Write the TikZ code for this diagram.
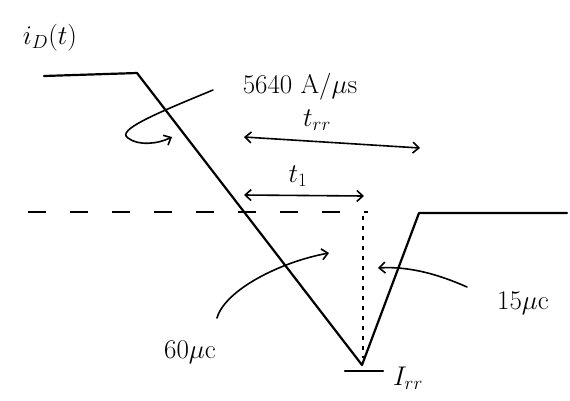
\RequirePackage{fix-cm}
\documentclass[tikz,border=0pt]{standalone}
\usetikzlibrary{arrows.meta}
\begin{document}
\begin{tikzpicture}[x=1pt,y=-1pt,
  wave/.style={line width=2.2pt,line join=round,line cap=round},
  note/.style={line width=1.6pt,line cap=round,-{Straight Barb[length=6pt,width=11pt,line width=1.6pt]}},
  dbl/.style={line width=1.6pt,line cap=round,{Straight Barb[length=6pt,width=11pt,line width=1.6pt]}-{Straight Barb[length=6pt,width=11pt,line width=1.6pt]}},
  lbl/.style={inner sep=0pt,font=\fontsize{27}{32}\selectfont}]
\useasboundingbox (0,0) rectangle (570,400);
% waveform
\coordinate (a) at (44,76);
\coordinate (b) at (137,73);
\coordinate (c) at (362,365);
\coordinate (d) at (419,213);
\coordinate (e) at (567,213);
\draw[wave] (a) -- (b) -- (c) -- (d) -- (e);
% Irr bar
\coordinate (irl) at (345,371);
\coordinate (irr) at (383,371);
\draw[wave] (irl) -- (irr);
% dashed zero line
\coordinate (dl) at (28,212);
\coordinate (dr) at (368,212);
\draw[line width=1.8pt,dash pattern=on 18pt off 24pt] (dl) -- (dr);
% dotted vertical
\coordinate (vt) at (363,216);
\coordinate (vb) at (363,358);
\draw[line width=1.8pt,dash pattern=on 4pt off 6pt] (vt) -- (vb);
% labels
\node[lbl] (iD) at (50,38) {$i_D(t)$};
\node[lbl] (slope) at (300,87) {5640 A/$\mu$s};
\node[lbl] (trrl) at (317,120) {$t_{rr}$};
\node[lbl] (t1l) at (298,176) {$t_1$};
\node[lbl] (q60) at (190,352) {60$\mu$c};
\node[lbl] (q15) at (523,303) {15$\mu$c};
\node[lbl] (Irr) at (408,378) {$I_{rr}$};
% t_rr and t_1 arrows
\coordinate (trA) at (244,137);
\coordinate (trB) at (420,148);
\draw[dbl] (trA) -- (trB);
\coordinate (t1A) at (244,195);
\coordinate (t1B) at (364,196);
\draw[dbl] (t1A) -- (t1B);
% slope curl arrow
\coordinate (s0) at (213,90);
\coordinate (s1) at (172,137);
\draw[note] (s0) .. controls (160,112) and (115,130) .. (128,138) .. controls (138,146) and (158,144) .. (s1);
% 60 uC arrow
\coordinate (q60s) at (217,318);
\coordinate (q60e) at (329,253);
\draw[note] (q60s) .. controls (225,290) and (280,262) .. (q60e);
% 15 uC arrow
\coordinate (q15s) at (467,287);
\coordinate (q15e) at (378,268);
\draw[note] (q15s) .. controls (440,275) and (410,266) .. (q15e);
\end{tikzpicture}
\end{document}
